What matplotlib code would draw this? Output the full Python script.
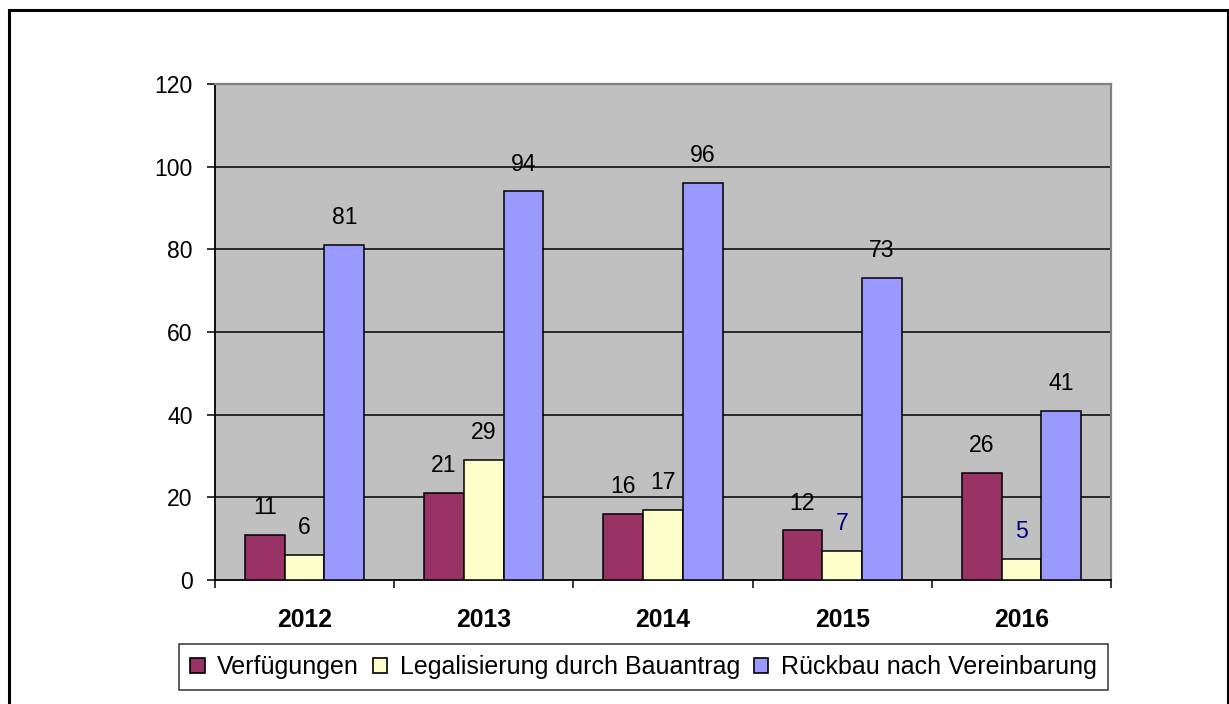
import matplotlib
matplotlib.use("Agg")
import matplotlib.pyplot as plt
from matplotlib.lines import Line2D
from matplotlib.patches import Patch
import numpy as np

years = ["2012", "2013", "2014", "2015", "2016"]
series_names = ["Verfügungen", "Legalisierung durch Bauantrag", "Rückbau nach Vereinbarung"]
verfuegungen = [11, 21, 16, 12, 26]
legalisierung = [6, 29, 17, 7, 5]
rueckbau = [81, 94, 96, 73, 41]
colors = ["#993366", "#FFFFCC", "#9999FF"]
yticks = [0, 20, 40, 60, 80, 100, 120]

plt.rcParams['font.family'] = ['Liberation Sans', 'DejaVu Sans']
FS = 16.6
FS_YEAR = 17.8
FS_LEG = 18.0

W, H = 1229, 704
fig = plt.figure(figsize=(W / 100, H / 100), dpi=100)
ax = fig.add_axes([215 / W, 1 - 580 / H, (1111 - 215) / W, (580 - 84) / H])
ax.set_facecolor("#C0C0C0")

x = np.arange(len(years))
bw = 0.222
series = [verfuegungen, legalisierung, rueckbau]
for i, (vals, c, name) in enumerate(zip(series, colors, series_names)):
    pos = x + (i - 1) * bw
    ax.bar(pos, vals, width=bw, color=c, edgecolor="black", linewidth=1.1, zorder=3, label=name)
    for j, (p, v) in enumerate(zip(pos, vals)):
        tc = "black"
        if i == 1 and years[j] in ("2015", "2016"):
            tc = "#000080"
        ax.annotate(str(v), (p, v), xytext=(0, 15), textcoords="offset points",
                    ha="center", va="baseline", fontsize=FS, color=tc, zorder=4)

ax.set_xlim(-0.5, len(years) - 0.5)
ax.set_ylim(0, 120)
ax.set_yticks(yticks)
ax.set_yticklabels([str(t) for t in yticks], fontsize=FS)
for t in yticks[1:-1]:
    ax.axhline(t, color="black", linewidth=1.1, zorder=1)

ax.set_xticks(np.arange(len(years) + 1) - 0.5)
ax.set_xticklabels([""] * (len(years) + 1))
ax.set_xticks(x, minor=True)
ax.set_xticklabels(years, minor=True, fontsize=FS_YEAR, fontweight="bold")
ax.tick_params(axis="x", which="minor", length=0, pad=20)
ax.tick_params(axis="x", which="major", length=6, width=1.1, direction="out")
ax.tick_params(axis="y", length=6, width=1.1, direction="out", pad=10)

for s in ["left", "bottom"]:
    ax.spines[s].set_color("black")
    ax.spines[s].set_linewidth(1.3)
for s in ["top", "right"]:
    ax.spines[s].set_color("#808080")
    ax.spines[s].set_linewidth(1.6)

handles = [Patch(facecolor=c, edgecolor="black", linewidth=1.2) for c in colors]
leg = fig.legend(handles, series_names, loc="center", bbox_to_anchor=(643.5 / W, 1 - 667 / H),
                 ncol=3, fontsize=FS_LEG, frameon=True, fancybox=False, edgecolor="black",
                 handlelength=0.58, handleheight=0.55, handletextpad=0.5, columnspacing=0.55,
                 borderpad=0.45, borderaxespad=0)
leg.get_frame().set_linewidth(1.1)

# outer frame (left, top, right)
lw = 2.2
fig.add_artist(Line2D([9 / W, 9 / W], [0, 1 - 9.5 / H], transform=fig.transFigure, color="black", linewidth=lw))
fig.add_artist(Line2D([9 / W, 1227.5 / W], [1 - 9.5 / H, 1 - 9.5 / H], transform=fig.transFigure, color="black", linewidth=lw))
fig.add_artist(Line2D([1227.5 / W, 1227.5 / W], [0, 1 - 9.5 / H], transform=fig.transFigure, color="black", linewidth=lw))

fig.savefig("out.png", dpi=100)
